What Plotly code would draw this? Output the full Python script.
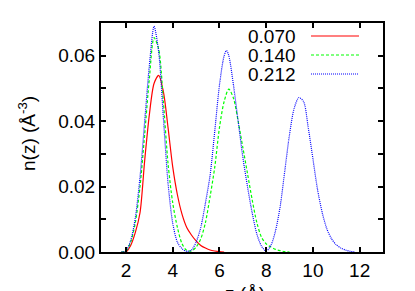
import plotly.graph_objects as go

# ---- data ----
series_names = ["0.070", "0.140", "0.212"]

z_red = [1.8, 2.0, 2.2, 2.4, 2.6, 2.8, 3.0, 3.2, 3.4, 3.6, 3.8, 4.0, 4.2, 4.4, 4.6,
         4.8, 5.0, 5.2, 5.4, 5.6, 5.8, 6.0, 6.2]
n_red = [0.0, 0.0, 0.002, 0.006, 0.012, 0.028, 0.042, 0.0515, 0.054, 0.049, 0.038,
         0.026, 0.0175, 0.0115, 0.0075, 0.0052, 0.0034, 0.002, 0.0012, 0.0006,
         0.0003, 0.0001, 0.0]

z_green = [1.8, 2.0, 2.2, 2.4, 2.6, 2.8, 3.0, 3.2, 3.4, 3.6, 3.8, 4.0, 4.2, 4.4, 4.6,
           4.8, 5.0, 5.2, 5.4, 5.6, 5.8, 6.0, 6.2, 6.4, 6.6, 6.8, 7.0, 7.2, 7.4, 7.6,
           7.8, 8.0, 8.2, 8.4, 8.6, 8.8, 9.0]
n_green = [0.0, 0.0003, 0.003, 0.009, 0.020, 0.036, 0.053, 0.0655, 0.062, 0.046,
           0.027, 0.015, 0.0075, 0.0025, 0.0005, 0.0003, 0.0015, 0.004, 0.009,
           0.017, 0.026, 0.038, 0.046, 0.0498, 0.047, 0.040, 0.032, 0.024, 0.016,
           0.009, 0.0045, 0.0025, 0.0015, 0.0008, 0.0004, 0.0001, 0.0]

z_blue = [1.8, 2.0, 2.2, 2.4, 2.6, 2.8, 3.0, 3.2, 3.4, 3.6, 3.8, 4.0, 4.2, 4.4, 4.6,
          4.8, 5.0, 5.2, 5.4, 5.6, 5.8, 6.0, 6.2, 6.3, 6.4, 6.6, 6.8, 7.0, 7.2, 7.4,
          7.6, 7.8, 8.0, 8.2, 8.4, 8.6, 8.8, 9.0, 9.2, 9.4, 9.6, 9.8, 10.0, 10.2,
          10.4, 10.6, 10.8, 11.0, 11.2, 11.4, 11.6, 11.8]
n_blue = [0.0, 0.0004, 0.0035, 0.0105, 0.023, 0.040, 0.057, 0.069, 0.061, 0.041,
          0.021, 0.0088, 0.003, 0.001, 0.0002, 0.0006, 0.003, 0.0075, 0.015, 0.0235,
          0.037, 0.051, 0.060, 0.0616, 0.060, 0.051, 0.040, 0.029, 0.020, 0.012,
          0.0055, 0.0018, 0.0003, 0.002, 0.0065, 0.014, 0.025, 0.036, 0.044, 0.0472,
          0.046, 0.038, 0.0285, 0.019, 0.012, 0.007, 0.004, 0.0022, 0.0012, 0.0006,
          0.0002, 0.0]

x_tickvals = [2, 4, 6, 8, 10, 12]
x_ticktext = ["2", "4", "6", "8", "10", "12"]
y_tickvals = [0.0, 0.02, 0.04, 0.06]
y_ticktext = ["0.00", "0.02", "0.04", "0.06"]

# ---- styles ----
colors = ["#ff0000", "#00ff00", "#0000ff"]
dashes = ["solid", "3px,2px", "1px,1px"]
FONT = "Liberation Sans, Arial, sans-serif"
FS = 19

# page has an 8px body margin; size the figure so the plot lands where the reference has it
OFF = 8
W, H = 415 - OFF, 291 - OFF
P_LEFT, P_RIGHT, P_TOP, P_BOT = 101, 383, 23, 252   # page pixels of the plot frame
ML, MT = P_LEFT - OFF, P_TOP - OFF
MR, MB = W - (P_RIGHT - OFF), H - (P_BOT - OFF)
PW, PH = P_RIGHT - P_LEFT, P_BOT - P_TOP


def px_x(px):
    return (px - P_LEFT) / PW


def px_y(py):
    return (P_BOT - py) / PH


fig = go.Figure()
for zs, ns, c, d, nm in zip([z_red, z_green, z_blue], [n_red, n_green, n_blue],
                            colors, dashes, series_names):
    fig.add_trace(go.Scatter(x=zs, y=ns, mode="lines", name=nm,
                             line=dict(color=c, width=1.2, dash=d, shape="spline",
                                       smoothing=0.8),
                             showlegend=False))

# custom gnuplot-style legend (text then sample line), in paper coords
leg_y_px = [36, 55, 74]
for nm, c, d, py in zip(series_names, colors, dashes, leg_y_px):
    fig.add_annotation(x=px_x(298), y=px_y(py), xref="paper", yref="paper",
                       text=nm, showarrow=False, xanchor="right", yanchor="middle",
                       font=dict(family=FONT, size=FS, color="black"))
    fig.add_shape(type="line", xref="paper", yref="paper",
                  x0=px_x(311), x1=px_x(359), y0=px_y(py), y1=px_y(py),
                  line=dict(color=c, width=1.2, dash=d))

# axis titles
fig.add_annotation(x=px_x(245), y=px_y(293), xref="paper", yref="paper",
                   text="z (Å)", showarrow=False, xanchor="center", yanchor="middle",
                   font=dict(family=FONT, size=FS, color="black"))
fig.add_annotation(x=px_x(27), y=px_y(134), xref="paper", yref="paper",
                   text="n(z) (Å<sup>-3</sup>)", showarrow=False, textangle=-90,
                   xanchor="center", yanchor="middle",
                   font=dict(family=FONT, size=FS, color="black"))

axis_common = dict(showgrid=False, zeroline=False, showline=True, linecolor="black",
                   linewidth=2, mirror="allticks", ticks="inside", ticklen=5,
                   tickwidth=1.5, tickcolor="black", automargin=False,
                   tickfont=dict(family=FONT, size=FS, color="black"))

fig.update_xaxes(range=[0.93, 13.0], tickmode="array", tickvals=x_tickvals,
                 ticktext=x_ticktext, **axis_common)
fig.update_yaxes(range=[0.0, 0.07], tickmode="array", tickvals=y_tickvals,
                 ticktext=y_ticktext,
                 minor=dict(dtick=0.01, ticks="inside", ticklen=5, tickwidth=1.5,
                            tickcolor="black", showgrid=False),
                 **axis_common)

fig.update_layout(width=W, height=H, margin=dict(l=ML, r=MR, t=MT, b=MB),
                  plot_bgcolor="white", paper_bgcolor="white", showlegend=False)

fig.write_html("out.html")
